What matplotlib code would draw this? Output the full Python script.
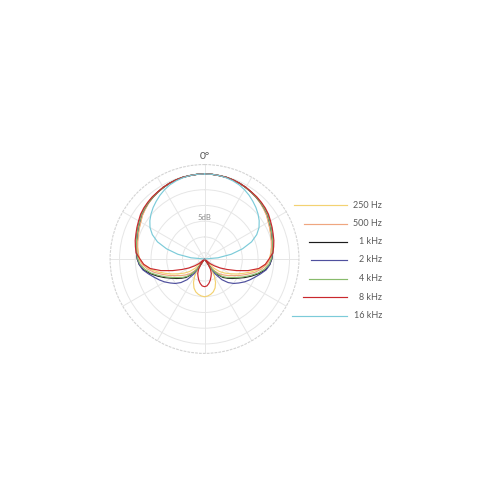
import numpy as np
import matplotlib
matplotlib.use("Agg")
import matplotlib.pyplot as plt

plt.rcParams['font.family'] = ['Lato', 'DejaVu Sans']

# polar response in dB (0 = on-axis), read every 5 degrees on one side, mirrored later
angles = np.arange(0, 181, 5)

hz_250 = [0, 0, -0.1, -0.15, -0.3, -0.5, -0.8, -1.1, -1.5, -1.9, -2.4, -2.9, -3.6, -4.1,
          -4.6, -5.0, -5.4, -5.9,
          -6.4, -7.5, -9.2, -11.4, -13.7, -15.7, -17.6, -19.2, -20.8, -22.9, -27, -23.2,
          -20.7, -18.7, -17.2, -16.2, -15.6, -15.2, -15.0]
hz_500 = [0, 0, -0.1, -0.15, -0.3, -0.5, -0.8, -1.1, -1.5, -1.9, -2.4, -2.9, -3.6, -4.1,
          -4.6, -5.0, -5.4, -5.8,
          -6.2, -7.1, -8.6, -10.5, -12.7, -14.6, -16.4, -17.8, -19.1, -20.3, -21.9, -24.1,
          -27, -27, -27, -27, -27, -27, -27]
khz_1 = [0, 0, -0.1, -0.15, -0.3, -0.5, -0.8, -1.1, -1.4, -1.7, -2.1, -2.5, -3.2, -3.7,
         -4.2, -4.6, -5.0, -5.3,
         -5.6, -6.2, -7.3, -9.1, -11.1, -13.0, -14.8, -16.2, -17.5, -18.7, -20.5, -22.9,
         -27, -27, -27, -27, -27, -27, -27]
khz_2 = [0, 0, -0.1, -0.15, -0.3, -0.5, -0.8, -1.1, -1.4, -1.7, -2.1, -2.5, -3.2, -3.7,
         -4.2, -4.6, -5.0, -5.3,
         -5.7, -6.2, -7.1, -8.6, -10.0, -11.2, -12.4, -13.7, -14.9, -16.4, -18.4, -21.3,
         -27, -27, -27, -27, -27, -27, -27]
khz_4 = [0, 0, -0.1, -0.15, -0.3, -0.5, -0.8, -1.1, -1.4, -1.7, -2.1, -2.5, -3.2, -3.7,
         -4.2, -4.6, -5.0, -5.4,
         -5.8, -6.5, -7.8, -9.5, -11.6, -13.5, -15.2, -16.7, -17.9, -19.2, -21.0, -23.2,
         -27, -27, -27, -27, -27, -27, -27]
khz_8 = [0, 0, -0.1, -0.15, -0.3, -0.5, -0.7, -1.0, -1.2, -1.5, -1.8, -2.2, -2.8, -3.3,
         -3.8, -4.2, -4.7, -5.2,
         -6.5, -7.6, -9.5, -12.7, -16.2, -19.1, -21.3, -23.2, -24.8, -27, -27, -25.1,
         -23.2, -21.9, -21.0, -20.0, -19.1, -18.4, -18.2]
khz_16 = [0, 0, -0.1, -0.3, -0.6, -1.0, -1.6, -2.3, -3.1, -3.9, -4.8, -5.8, -7.0, -8.7,
          -11.1, -14.5, -18.4, -22.7,
          -27, -27, -27, -27, -27, -27, -27, -27, -27, -27, -27, -27, -27, -27, -27, -27,
          -27, -27, -27]

labels = ['250 Hz', '500 Hz', '1 kHz', '2 kHz', '4 kHz', '8 kHz', '16 kHz']
series = [hz_250, hz_500, khz_1, khz_2, khz_4, khz_8, khz_16]
colors = ['#f3d272', '#efa67f', '#1c1c1c', '#4f509e', '#88bb6c', '#c9282d', '#7ccbd9']

r_min, r_max = -27, 3
grid_c = '#e6e6e6'

fig = plt.figure(figsize=(5, 5), dpi=100)
ax = fig.add_axes([0.2202, 0.2932, 0.3777, 0.3777], projection='polar')
ax.set_theta_zero_location('N')
ax.set_theta_direction(-1)

# mirror the half pattern to the other side
theta = np.radians(np.concatenate([angles, 360 - angles[::-1][1:]]))
for vals, c in zip(series, colors):
    v = np.array(vals)
    full = np.concatenate([v, v[::-1][1:]])
    ax.plot(theta, full, color=c, lw=0.85, solid_joinstyle='round')

ax.set_rlim(r_min, r_max)
ax.set_yticks([-25, -20, -15, -10, -5, 0])
ax.set_yticklabels([])
ax.set_xticks(np.radians(np.arange(0, 360, 30)))
ax.set_xticklabels([])
ax.grid(True, color=grid_c, lw=0.7)
ax.spines['polar'].set_linestyle((0, (1.5, 2)))
ax.spines['polar'].set_color('#d4d4d4')
ax.spines['polar'].set_linewidth(0.8)
ax.tick_params(length=0)

ax.text(0, 5.7, '0°', ha='center', va='center', fontsize=7.5, color='#555555', clip_on=False)
ax.text(0, -13.7, '5dB', ha='center', va='center', fontsize=5.5, color='#8a8a8a')

# legend drawn in pixel space, lines start just outside the dashed ring
lg = fig.add_axes([0, 0, 1, 1])
lg.set_xlim(0, 500)
lg.set_ylim(500, 0)
lg.axis('off')
cx, cy, R = 204.5, 259, 94.4
leg_y = [205, 223.5, 241.5, 260, 278.5, 297, 316]
for lab, c, y in zip(labels, colors, leg_y):
    x0 = cx + np.sqrt(R ** 2 - (cy - y) ** 2) + 12
    lg.plot([x0, 347], [y, y], color=c, lw=0.85)
    lg.text(382, y, lab, ha='right', va='center', fontsize=6.5, color='#5a5a5a')

fig.savefig('out.png', dpi=100)
